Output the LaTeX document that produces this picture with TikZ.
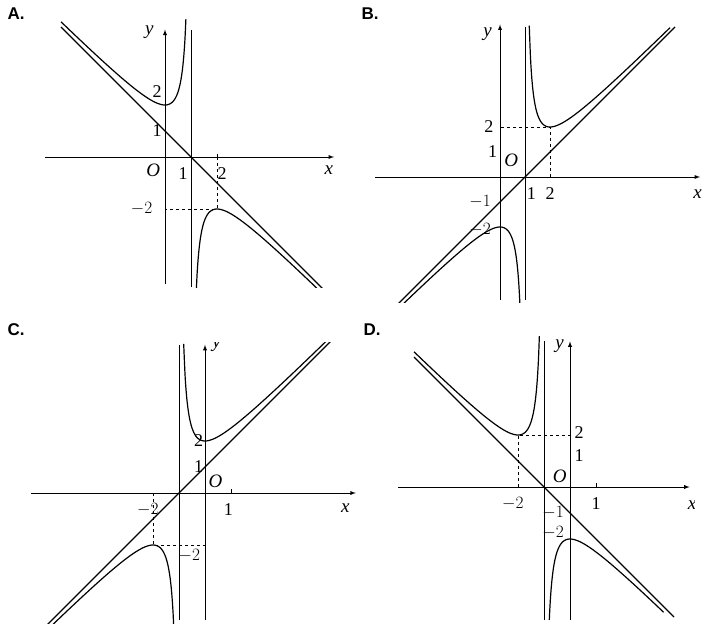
\documentclass[tikz,border=0pt]{standalone}
\usepackage{fontspec}
\setsansfont{Liberation Sans}
\setmainfont{Liberation Serif}
\begin{document}
\begin{tikzpicture}[x=1pt,y=-1pt,
  ax/.style={line width=0.9pt,-latex},
  cv/.style={line width=1.2pt,smooth,samples=120},
  ln/.style={line width=1.1pt},
  vl/.style={line width=0.9pt},
  dsh/.style={dashed,line width=0.6pt},
  lab/.style={font=\sffamily\bfseries\fontsize{17}{19}\selectfont},
  num/.style={font=\fontsize{18}{20}\selectfont,inner sep=1pt},
  var/.style={font=\fontsize{19}{21}\selectfont\itshape,inner sep=1pt}]
\useasboundingbox (0,0) rectangle (708,631);
\fill[white] (0,0) rectangle (708,631);
\node[lab] (la) at (16,14) {A.};
\node[lab] (lb) at (370,14) {B.};
\node[lab] (lc) at (16,330) {C.};
\node[lab] (ld) at (372,330) {D.};
% A
\begin{scope}[shift={(165,157)},x=26pt,y=26pt]
\clip (-4.7,-5) rectangle (7,5.3);
\draw[ax] (-4.6,0) -- (6.5,0);
\draw[ax] (0,-4.9) -- (0,4.9);
\draw[vl] (1,-5) -- (1,4.9);
\draw[ln] (-4,5) -- (6.5,-5.5);
\draw[cv,domain=-4:0.81] plot (\x,{-\x+1-1/(\x-1)});
\draw[cv,domain=1.19:6.5] plot (\x,{-\x+1-1/(\x-1)});
\draw[dsh] (2,0) -- (2,-2) -- (0,-2);
\foreach \t in {1,2} \draw (\t,0) -- (\t,0.1);
\node[var] (xa) at (6.3,-0.5) {x};
\node[var] (ya) at (-0.6,4.8) {y};
\node[var] (oa) at (-0.45,-0.5) {O};
\node[num] (a1) at (0.7,-0.65) {1};
\node[num] (a2) at (2.2,-0.65) {2};
\node[num] (a3) at (-0.3,1) {1};
\node[num] (a4) at (-0.3,2.5) {2};
\node[num] (a5) at (-0.9,-2) {$-2$};
\end{scope}
% B
\begin{scope}[shift={(500,177)},x=25pt,y=25pt]
\clip (-5.2,-5) rectangle (8.2,6.3);
\draw[ax] (-5,0) -- (8,0);
\draw[ax] (0,-4.9) -- (0,6.1);
\draw[vl] (1,-4.9) -- (1,6);
\draw[ln] (-4.2,-5.2) -- (7,6);
\draw[cv,domain=-4.2:0.83] plot (\x,{\x-1+1/(\x-1)});
\draw[cv,domain=1.17:6.8] plot (\x,{\x-1+1/(\x-1)});
\draw[dsh] (2,0) -- (2,2) -- (0,2);
\node[var] (xb) at (7.9,-0.7) {x};
\node[var] (yb) at (-0.5,5.7) {y};
\node[var] (ob) at (0.45,0.65) {O};
\node[num] (b1) at (1.25,-0.65) {1};
\node[num] (b2) at (2,-0.65) {2};
\node[num] (b3) at (-0.3,1) {1};
\node[num] (b4) at (-0.45,2) {2};
\node[num] (b5) at (-0.8,-1) {$-1$};
\node[num] (b6) at (-0.8,-2.1) {$-2$};
\end{scope}
% C
\begin{scope}[shift={(205,493)},x=26pt,y=26pt]
\clip (-6.8,-5) rectangle (6,5.8);
\draw[ax] (-6.7,0) -- (5.8,0);
\draw[ax] (0,-4.9) -- (0,5.7);
\draw[vl] (-1,-4.9) -- (-1,5.7);
\draw[ln] (-6.2,-5.2) -- (5.8,6.8);
\draw[cv,domain=-6.2:-1.18] plot (\x,{\x+1+1/(\x+1)});
\draw[cv,domain=-0.82:5.8] plot (\x,{\x+1+1/(\x+1)});
\draw[dsh] (-2,0) -- (-2,-2) -- (0,-2);
\draw (1,0) -- (1,0.15);
\node[var] (xc) at (5.4,-0.6) {x};
\node[var] (yc) at (0.45,5.7) {y};
\node[var] (oc) at (0.4,0.45) {O};
\node[num] (c1) at (0.9,-0.65) {1};
\node[num] (c2) at (-2.2,-0.65) {$-2$};
\node[num] (c3) at (-0.25,1) {1};
\node[num] (c4) at (-0.25,2) {2};
\node[num] (c5) at (-0.6,-2.4) {$-2$};
\end{scope}
% D
\begin{scope}[shift={(570,487)},x=26pt,y=26pt]
\clip (-6.7,-5.1) rectangle (4.8,5.8);
\draw[ax] (-6.6,0) -- (4.6,0);
\draw[ax] (0,-5.1) -- (0,5.6);
\draw[vl] (-1,-5.1) -- (-1,5.6);
\draw[ln] (-6,5) -- (4,-5);
\draw[cv,domain=-6:-1.17] plot (\x,{-\x-1-1/(\x+1)});
\draw[cv,domain=-0.83:3.6] plot (\x,{-\x-1-1/(\x+1)});
\draw[dsh] (-2,0) -- (-2,2) -- (0,2);
\draw (1,0) -- (1,0.15);
\node[var] (xd) at (4.7,-0.7) {x};
\node[var] (yd) at (-0.4,5.4) {y};
\node[var] (od) at (-0.4,0.4) {O};
\node[num] (d1) at (1,-0.65) {1};
\node[num] (d2) at (-2.2,-0.65) {$-2$};
\node[num] (d3) at (0.35,1.2) {1};
\node[num] (d4) at (0.35,2.1) {2};
\node[num] (d5) at (-0.65,-1) {$-1$};
\node[num] (d6) at (-0.65,-1.75) {$-2$};
\end{scope}
\end{tikzpicture}
\end{document}
